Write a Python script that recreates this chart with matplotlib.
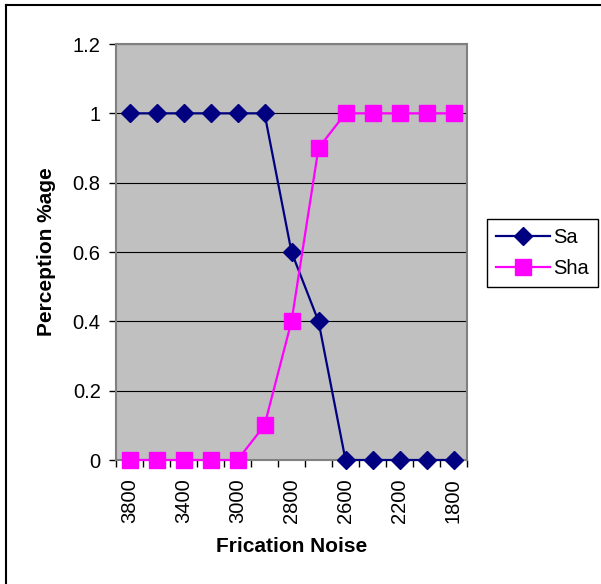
import matplotlib.pyplot as plt
import matplotlib.lines as mlines

plt.rcParams['font.family'] = ['Liberation Sans', 'DejaVu Sans']

# frication noise steps (Hz) and perception proportions
noise = ['3800', '3600', '3400', '3200', '3000', '2900', '2800',
         '2700', '2600', '2400', '2200', '2000', '1800']
sa = [1, 1, 1, 1, 1, 1, 0.6, 0.4, 0, 0, 0, 0, 0]
sha = [0, 0, 0, 0, 0, 0.1, 0.4, 0.9, 1, 1, 1, 1, 1]

fig = plt.figure(figsize=(6.01, 5.84), dpi=100)
ax = fig.add_axes([116 / 601, 1 - 460 / 584, 351 / 601, 416 / 584])
ax.set_facecolor('#C0C0C0')

x = list(range(len(noise)))
ax.plot(x, sa, color='#000080', lw=1.6, marker='D', ms=9.5, label='Sa',
        zorder=3, clip_on=False)
ax.plot(x, sha, color='#FF00FF', lw=1.6, marker='s', ms=11, label='Sha',
        zorder=3, clip_on=False)

ax.set_xlim(-0.5, len(noise) - 0.5)
ax.set_ylim(0, 1.2)
ax.set_yticks([0, 0.2, 0.4, 0.6, 0.8, 1, 1.2])
ax.set_yticklabels(['0', '0.2', '0.4', '0.6', '0.8', '1', '1.2'], fontsize=14.5)
ax.yaxis.grid(True, color='black', lw=0.8)
ax.set_axisbelow(True)

# tick marks between categories, labels on every other category
ax.set_xticks([i - 0.5 for i in range(len(noise) + 1)])
ax.set_xticklabels([])
ax.set_xticks(x[::2], minor=True)
ax.set_xticklabels(noise[::2], minor=True, rotation=90, fontsize=14.5)
ax.tick_params(axis='x', which='minor', length=0, pad=13)
ax.tick_params(axis='x', which='major', length=5, width=1)
ax.tick_params(axis='y', length=5, width=1, pad=6)

for s in ax.spines.values():
    s.set_color('#808080')
    s.set_linewidth(1.5)

ax.set_xlabel('Frication Noise', fontsize=15, fontweight='bold', labelpad=10)
ax.set_ylabel('Perception %age', fontsize=15, fontweight='bold', labelpad=12)

leg = fig.legend(loc='upper left', bbox_to_anchor=(487 / 601, 1 - 219 / 584),
                 fontsize=14.5, frameon=True, fancybox=False, edgecolor='black',
                 framealpha=1, handlelength=2.7, borderpad=0.45, labelspacing=0.6,
                 handletextpad=0.15, borderaxespad=0)
leg.get_frame().set_linewidth(1)

# outer chart border
fig.add_artist(mlines.Line2D([6 / 601, 6 / 601], [0, 1 - 5 / 584], color='black', lw=1.5))
fig.add_artist(mlines.Line2D([6 / 601, 1], [1 - 5 / 584, 1 - 5 / 584], color='black', lw=1.5))

fig.savefig('out.png', dpi=100)
